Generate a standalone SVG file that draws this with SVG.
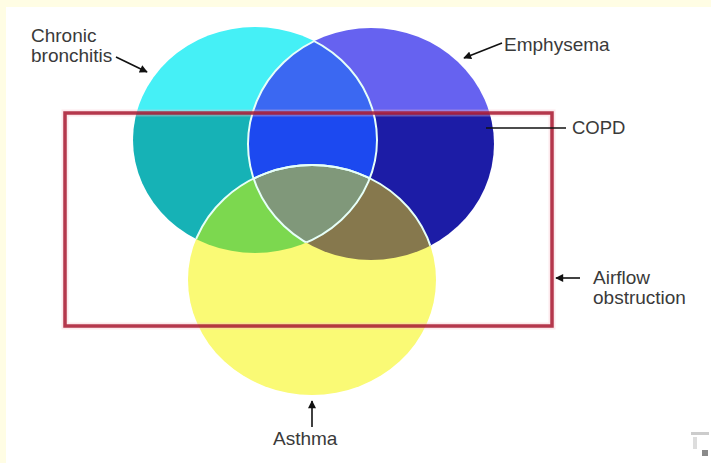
<svg xmlns="http://www.w3.org/2000/svg" xmlns:xlink="http://www.w3.org/1999/xlink" width="711" height="463" viewBox="0 0 711 463">
  <style>
    .lbl { font-family: "Liberation Sans", Arial, sans-serif; font-size: 19px; fill: #3a3a3a; }
    .arr { stroke: #111; stroke-width: 1.6; fill: none; }
    .seam { fill: none; stroke: #e6fff8; stroke-width: 2; }
  </style>
  <defs>
    <ellipse id="eC" cx="255" cy="140" rx="122" ry="113"/>
    <ellipse id="eB" cx="371" cy="144" rx="123" ry="116"/>
    <ellipse id="eY" cx="312" cy="280" rx="124" ry="115"/>
    <clipPath id="cC"><ellipse cx="255" cy="140" rx="122" ry="113"/></clipPath>
    <clipPath id="cB"><ellipse cx="371" cy="144" rx="123" ry="116"/></clipPath>
    <clipPath id="cY"><ellipse cx="312" cy="280" rx="124" ry="115"/></clipPath>
    <clipPath id="cTop"><rect x="0" y="0" width="711" height="113"/></clipPath>
    <clipPath id="cIn"><rect x="0" y="113" width="711" height="350"/></clipPath>
    <filter id="soft" x="-5%" y="-5%" width="110%" height="110%"><feGaussianBlur stdDeviation="0.7"/></filter>
    <marker id="ah" viewBox="0 0 10 10" refX="9" refY="5" markerWidth="9" markerHeight="8" markerUnits="userSpaceOnUse" orient="auto">
      <path d="M0,0 L10,5 L0,10 z" fill="#111"/>
    </marker>
  </defs>

  <rect x="0" y="0" width="711" height="463" fill="#ffffff"/>
  <rect x="0" y="0" width="711" height="7" fill="#fffde4"/>
  <rect x="0" y="0" width="6" height="463" fill="#fffde4"/>

  <g id="venn" filter="url(#soft)">
    <g id="circles-above-copd" clip-path="url(#cTop)">
      <use xlink:href="#eC" fill="#44f0f6"/>
      <use xlink:href="#eB" fill="#6662f0"/>
      <g clip-path="url(#cC)"><use xlink:href="#eB" fill="#3a68f2"/></g>
    </g>
    <g id="circles-inside-copd" clip-path="url(#cIn)">
      <use xlink:href="#eC" fill="#14b2b6"/>
      <use xlink:href="#eB" fill="#1c1ca6"/>
      <g clip-path="url(#cC)"><use xlink:href="#eB" fill="#1a4af0"/></g>
      <use xlink:href="#eY" fill="#fafa74"/>
      <g clip-path="url(#cY)"><use xlink:href="#eC" fill="#7cd850"/></g>
      <g clip-path="url(#cY)"><use xlink:href="#eB" fill="#86784e"/></g>
      <g clip-path="url(#cY)"><g clip-path="url(#cC)"><use xlink:href="#eB" fill="#80987a"/></g></g>
    </g>
    <g id="seams">
      <g clip-path="url(#cB)"><use xlink:href="#eC" class="seam"/></g>
      <g clip-path="url(#cC)"><use xlink:href="#eB" class="seam"/></g>
      <g clip-path="url(#cC)"><use xlink:href="#eY" class="seam"/></g>
      <g clip-path="url(#cB)"><use xlink:href="#eY" class="seam"/></g>
    </g>
  </g>

  <g id="copd">
    <rect x="65" y="113" width="487" height="213" fill="none" stroke="#f6c0c8" stroke-width="7" opacity="0.35"/>
    <rect x="65" y="113" width="487" height="213" fill="none" stroke="#a81830" stroke-width="3.5" opacity="0.85"/>
  </g>

  <g id="connectors">
    <line class="arr" x1="116" y1="57" x2="147" y2="72" marker-end="url(#ah)"/>
    <line class="arr" x1="502" y1="43" x2="464" y2="58" marker-end="url(#ah)"/>
    <line class="arr" x1="486" y1="128" x2="566" y2="128"/>
    <line class="arr" x1="580" y1="278" x2="556" y2="278" marker-end="url(#ah)"/>
    <line class="arr" x1="312" y1="427" x2="312" y2="401" marker-end="url(#ah)"/>
  </g>

  <g id="labels">
    <g id="label-chronic-bronchitis">
      <text class="lbl" x="31" y="42">Chronic</text>
      <text class="lbl" x="31" y="62">bronchitis</text>
    </g>
    <g id="label-emphysema"><text class="lbl" x="504" y="51">Emphysema</text></g>
    <g id="label-copd"><text class="lbl" x="572" y="134" style="font-size:18.5px">COPD</text></g>
    <g id="label-airflow">
      <text class="lbl" x="593" y="284">Airflow</text>
      <text class="lbl" x="593" y="304">obstruction</text>
    </g>
    <g id="label-asthma"><text class="lbl" x="273" y="445">Asthma</text></g>
  </g>

  <g id="corner-icon">
    <rect x="691" y="432" width="18" height="3" fill="#cccccc"/>
    <rect x="693" y="437" width="4" height="12" fill="#dddddd"/>
    <rect x="702" y="450" width="6" height="6" fill="#8a8a8a"/>
  </g>
</svg>
